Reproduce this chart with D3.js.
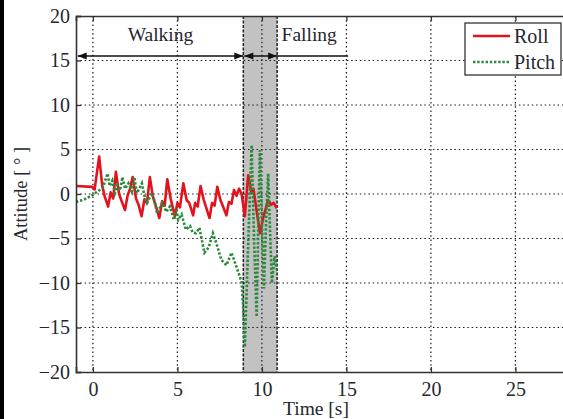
<!DOCTYPE html>
<html>
<head>
<meta charset="utf-8">
<script src="https://cdn.jsdelivr.net/npm/d3@7"></script>
<style>
  html, body { margin: 0; padding: 0; background: #fff; }
  svg { display: block; }
  text { font-family: "Liberation Serif", "Times New Roman", serif; fill: #26262f; }
</style>
</head>
<body>
<svg id="chart" width="563" height="419"></svg>
<script>
// Attitude during walking and falling
const rollTime = [-1, -0.05, 0.1, 0.37, 0.55, 0.7, 0.9, 1.05, 1.2, 1.36, 1.55, 1.7, 1.9, 2.05, 2.2, 2.35, 2.55, 2.7, 2.88, 3.05, 3.2, 3.37, 3.55, 3.75, 3.93, 4.1, 4.25, 4.4, 4.6, 4.85, 5.0, 5.15, 5.35, 5.55, 5.7, 5.93, 6.05, 6.2, 6.37, 6.55, 6.7, 6.9, 7.05, 7.2, 7.36, 7.55, 7.7, 7.9, 8.05, 8.2, 8.35, 8.5, 8.65, 8.8, 8.99, 9.19, 9.39, 9.5, 9.88, 10.1, 10.37, 10.55, 10.7, 10.88];
const rollValue = [0.9, 0.8, 0.5, 4.2, 1.0, -0.3, -1.4, 0.2, -0.5, 2.5, 0.0, -0.8, -1.8, -0.2, 0.6, 1.9, -0.5, -1.2, -2.5, -0.6, -1.0, 1.9, -0.3, -1.5, -2.7, -0.8, -1.3, 1.65, -0.5, -2.5, -1.0, -1.5, 1.2, -0.7, -1.0, -2.4, -1.0, -1.4, 0.9, -0.6, -1.5, -2.7, -1.0, -1.3, 0.8, -0.7, -1.4, -2.4, -0.9, -1.1, 0.45, -0.2, 0.6, 0.0, -2.5, 2.1, 0.1, 0.6, -4.4, -2.5, -0.7, -1.2, -1.0, -1.6];

const pitchTime = [-1, -0.5, 0, 0.2, 0.4, 0.6, 0.87, 1.0, 1.15, 1.3, 1.45, 1.6, 1.75, 1.9, 2.1, 2.3, 2.45, 2.6, 2.75, 2.9, 3.05, 3.2, 3.5, 3.65, 3.8, 4.1, 4.35, 4.55, 4.8, 4.95, 5.05, 5.25, 5.5, 5.75, 5.9, 6.1, 6.3, 6.6, 6.85, 7.1, 7.3, 7.6, 7.9, 8.2, 8.5, 8.8, 8.9, 8.99, 9.2, 9.39, 9.55, 9.69, 9.8, 9.88, 10.0, 10.12, 10.25, 10.37, 10.48, 10.59, 10.75, 10.88];
const pitchValue = [-0.9, -0.6, -0.1, 0.2, 0.45, 0.8, 2.3, 0.9, 1.5, 0.1, 1.0, 0.4, 1.9, 0.6, 1.2, 0.3, 1.9, 0.1, 0.6, 1.2, -0.2, -1.0, 0.1, -0.8, -2.2, -1.0, -2.0, -1.4, -2.9, -1.8, -2.9, -2.3, -4.0, -3.6, -4.3, -4.4, -3.8, -6.6, -6.0, -4.4, -5.5, -7.4, -8.0, -6.6, -8.2, -9.9, -13.0, -17.2, -5.0, 5.5, -6.0, -13.8, -2.0, 4.9, -3.0, -10.6, -3.0, 2.3, -4.0, -10.0, -7.0, -8.5];

const xTicks = [0, 5, 10, 15, 20, 25];
const yTicks = [-20, -15, -10, -5, 0, 5, 10, 15, 20];
const seriesNames = ["Roll", "Pitch"];

// Phases: walking, then the falling window (shaded) with the annotation running on to 15 s
const walkingSpan = [-0.9, 8.9];
const fallWindow = [8.9, 10.9];
const fallingLineEnd = 15.1;
const phaseLabels = ["Walking", "Falling"];
const phaseLabelAt = [4.0, 12.8];
const arrowLevel = 15.5;

const svg = d3.select("#chart");
const W = 563, H = 419;

// Left frame edge of the image
svg.append("rect").attr("x", 0).attr("y", 0).attr("width", 4).attr("height", H).attr("fill", "#000");

const plotLeft = 76, plotTop = 16, plotBottom = 372;
const x = d3.scaleLinear().domain([-1, 30]).range([plotLeft, plotLeft + 31 * 16.9]);
const y = d3.scaleLinear().domain([-20, 20]).range([plotBottom, plotTop]);
const plotRight = x(30);

svg.append("clipPath").attr("id", "plotclip")
  .append("rect").attr("x", plotLeft).attr("y", plotTop)
  .attr("width", plotRight - plotLeft).attr("height", plotBottom - plotTop);

// Shaded falling window
svg.append("rect")
  .attr("x", x(fallWindow[0])).attr("y", plotTop)
  .attr("width", x(fallWindow[1]) - x(fallWindow[0])).attr("height", plotBottom - plotTop)
  .attr("fill", "#c2c2c2");

// Dotted grid
const grid = svg.append("g").attr("stroke", "#1a1a1a").attr("stroke-width", 1.2)
  .attr("stroke-dasharray", "1.5,2.8");
grid.selectAll(".gx").data(xTicks).join("line")
  .attr("x1", d => x(d)).attr("x2", d => x(d)).attr("y1", plotTop).attr("y2", plotBottom);
grid.selectAll(".gy").data(yTicks.filter(d => d > -20 && d < 20)).join("line")
  .attr("x1", plotLeft).attr("x2", plotRight).attr("y1", d => y(d)).attr("y2", d => y(d));

// Window borders
svg.append("g").attr("stroke", "#222").attr("stroke-width", 1.5).attr("stroke-dasharray", "3,1.5")
  .selectAll("line").data(fallWindow).join("line")
  .attr("x1", d => x(d)).attr("x2", d => x(d)).attr("y1", plotTop).attr("y2", plotBottom);

// Series
const line = d3.line().x(d => x(d[0])).y(d => y(d[1]));
const rollData = rollTime.map((t, i) => [t, rollValue[i]]);
const pitchData = pitchTime.map((t, i) => [t, pitchValue[i]]);
const plot = svg.append("g").attr("clip-path", "url(#plotclip)");
plot.append("path").datum(rollData).attr("d", line)
  .attr("fill", "none").attr("stroke", "#e3121c").attr("stroke-width", 2.6).attr("stroke-linejoin", "round");
plot.append("path").datum(pitchData).attr("d", line)
  .attr("fill", "none").attr("stroke", "#2a8a3e").attr("stroke-width", 2.6).attr("stroke-dasharray", "2.4,1.8");

// Phase annotations
const ay = y(arrowLevel);
function arrowHead(tip, dir) {
  const len = 9, half = 3.5;
  svg.append("path")
    .attr("d", `M${tip},${ay} L${tip - dir * len},${ay - half} L${tip - dir * len},${ay + half} Z`)
    .attr("fill", "#111");
}
svg.append("line").attr("x1", x(walkingSpan[0])).attr("x2", x(walkingSpan[1]))
  .attr("y1", ay).attr("y2", ay).attr("stroke", "#111").attr("stroke-width", 1.6);
arrowHead(x(walkingSpan[0]), -1);
arrowHead(x(walkingSpan[1]), 1);
svg.append("line").attr("x1", x(fallWindow[0]) + 1).attr("x2", x(fallingLineEnd))
  .attr("y1", ay).attr("y2", ay).attr("stroke", "#111").attr("stroke-width", 1.6);
arrowHead(x(fallWindow[0]) + 1, -1);
arrowHead(x(fallWindow[1]), 1);
svg.selectAll(".phase").data(phaseLabels).join("text")
  .attr("x", (d, i) => x(phaseLabelAt[i])).attr("y", 41)
  .attr("text-anchor", "middle").attr("font-size", 19.5).text(d => d);

// Axes: inward ticks as in the frame
const xAxis = svg.append("g").attr("transform", `translate(0,${plotBottom})`)
  .call(d3.axisBottom(x).tickValues(xTicks).tickSize(-5).tickPadding(10).tickFormat(d3.format("d")));
const xTop = svg.append("g").attr("transform", `translate(0,${plotTop})`)
  .call(d3.axisTop(x).tickValues(xTicks).tickSize(-5).tickFormat(""));
const yAxis = svg.append("g").attr("transform", `translate(${plotLeft},0)`)
  .call(d3.axisLeft(y).tickValues(yTicks).tickSize(-5).tickPadding(6).tickFormat(d3.format("d")));
[xAxis, xTop, yAxis].forEach(g => {
  g.attr("font-family", null);
  g.select(".domain").attr("stroke", "#333").attr("stroke-width", 1.6);
  g.selectAll(".tick line").attr("stroke", "#333").attr("stroke-width", 1.3);
  g.selectAll("text").attr("font-size", 20).attr("fill", "#26262f");
});
xAxis.selectAll("text").attr("dy", "0.72em");

// Axis titles
svg.append("text").attr("x", x(13.2)).attr("y", 415).attr("text-anchor", "middle")
  .attr("font-size", 19.5).text("Time [s]");
svg.append("text").attr("transform", `translate(27,${y(0)}) rotate(-90)`).attr("text-anchor", "middle")
  .attr("font-size", 18.5).text("Attitude [ ° ]");

// Legend
const lg = svg.append("g");
lg.append("rect").attr("x", 465).attr("y", 23).attr("width", 96).attr("height", 52)
  .attr("fill", "#fff").attr("stroke", "#333").attr("stroke-width", 1.3);
const legendStyles = [{ c: "#e3121c", dash: null }, { c: "#2a8a3e", dash: "2.4,1.8" }];
seriesNames.forEach((name, i) => {
  const ly = 36 + i * 26;
  lg.append("line").attr("x1", 473).attr("x2", 510).attr("y1", ly).attr("y2", ly)
    .attr("stroke", legendStyles[i].c).attr("stroke-width", 2.4)
    .attr("stroke-dasharray", legendStyles[i].dash);
  lg.append("text").attr("x", 514).attr("y", ly + 7).attr("font-size", 20).text(name);
});
</script>
</body>
</html>
